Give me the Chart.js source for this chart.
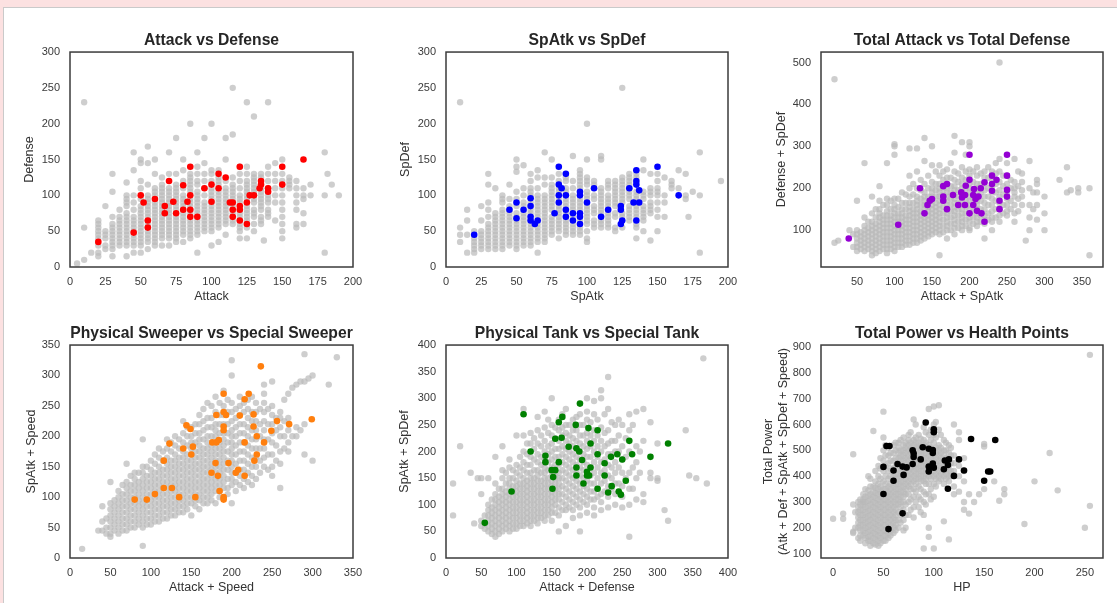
<!DOCTYPE html>
<html>
<head>
<meta charset="utf-8">
<script src="https://cdn.jsdelivr.net/npm/chart.js@4.4.1/dist/chart.umd.min.js"></script>
<style>
  html, body { margin: 0; padding: 0; width: 1117px; height: 603px; overflow: hidden; background: #fce1e1; }
  #card { position: absolute; left: 3px; top: 7px; right: 0; bottom: 0; background: #fff;
          border-left: 1px solid #cacaca; border-top: 1px solid #cacaca; }
  canvas { position: absolute; }
</style>
</head>
<body>
<div id="card"></div>
<canvas id="c1"></canvas>
<canvas id="c2"></canvas>
<canvas id="c3"></canvas>
<canvas id="c4"></canvas>
<canvas id="c5"></canvas>
<canvas id="c6"></canvas>
<script>
// highlighted group, one list of [x, y] per panel
const atkDefHi = [[20,35],[45,48],[50,100],[52,90],[55,65],[55,55],[60,95],[67,85],[67,75],[70,120],[73,91],[75,75],[80,114],[80,80],[83,91],[85,140],[85,100],[85,80],[85,70],[90,70],[95,110],[100,115],[100,91],[105,130],[105,110],[110,125],[113,90],[115,90],[115,80],[115,70],[120,140],[120,85],[120,80],[120,65],[125,90],[125,60],[127,100],[130,100],[134,110],[135,120],[135,115],[140,110],[140,105],[150,140],[150,115],[165,150]];
const spAtkSpDefHi = [[20,45],[45,80],[50,90],[50,68],[55,80],[60,96],[60,85],[60,70],[60,65],[63,60],[65,65],[77,75],[80,140],[80,115],[80,100],[80,90],[82,110],[85,130],[85,100],[85,80],[85,70],[90,75],[90,65],[95,105],[95,100],[95,75],[95,70],[95,60],[100,90],[105,110],[110,70],[115,80],[124,85],[124,80],[125,65],[124,60],[130,110],[133,90],[135,135],[135,120],[135,115],[135,65],[137,107],[137,90],[150,140],[165,100]];
const totalHi = [[39,80],[105,113],[134,200],[140,140],[144,160],[147,170],[150,174],[165,205],[165,180],[165,170],[170,210],[170,150],[178,184],[185,160],[189,190],[190,178],[194,184],[194,160],[195,206],[200,280],[200,220],[200,140],[205,184],[206,198],[205,160],[208,174],[210,146],[212,180],[215,200],[216,140],[220,120],[220,214],[230,230],[230,210],[230,194],[236,220],[240,170],[240,150],[250,280],[250,230],[250,196],[250,180]];
const sweeperHi = [[80,96],[95,96],[105,105],[116,160],[116,115],[123,188],[126,115],[135,100],[140,180],[144,218],[149,212],[150,170],[152,183],[155,100],[175,140],[176,190],[180,156],[181,235],[181,190],[183,135],[184,194],[185,110],[190,270],[190,240],[190,216],[190,210],[190,100],[190,96],[193,235],[196,156],[205,140],[208,145],[210,234],[216,261],[216,190],[216,135],[221,270],[227,236],[227,216],[228,160],[231,200],[231,170],[236,315],[240,190],[249,209],[256,225],[271,220],[299,228]];
const tankHi = [[55,66],[93,125],[110,270],[120,200],[141,192],[141,180],[150,165],[151,130],[152,152],[155,165],[155,224],[160,180],[160,255],[164,226],[165,265],[174,209],[184,250],[185,206],[185,170],[185,155],[189,200],[190,290],[193,184],[195,140],[200,162],[200,155],[202,244],[205,170],[205,215],[203,155],[215,240],[215,195],[215,130],[225,178],[225,155],[230,123],[234,190],[235,135],[243,195],[245,125],[248,119],[250,185],[255,145],[260,220],[264,195],[290,190],[315,215]];
const powerHi = [[55,195],[50,331],[50,436],[53,517],[56,517],[60,382],[60,422],[64,447],[69,437],[69,256],[70,405],[73,434],[79,447],[79,500],[80,488],[80,474],[87,465],[89,512],[92,608],[95,506],[95,418],[95,437],[99,501],[99,490],[99,449],[100,433],[100,582],[100,570],[110,427],[111,461],[114,443],[114,351],[115,465],[120,401],[125,465],[130,422],[137,544],[150,382],[154,418],[156,418],[161,540]];

// all other pokemon, one column per x value: [x, y, y, ...]
const atkDefGray = [[5,5],[10,10,55,230],[15,20],
  [20,15,20,30,40,45,50,55,60,65],[25,25,30,40,45,50,85],
  [30,15,25,30,35,40,45,50,55,60,70,105,130],[35,30,35,40,45,50,55,60,65,70,80],
  [40,15,30,35,40,45,50,55,60,65,70,75,85,90,95,100,118],[45,20,30,35,40,45,50,55,60,65,70,80,90,100,135,160],
  [50,20,30,35,40,45,50,55,60,65,70,75,80,85,95,110,120,145,150],[55,25,35,40,45,50,55,60,65,70,75,80,85,90,95,100,115,145,168],
  [60,30,35,40,45,50,55,60,65,70,75,80,85,90,100,105,110,130,150],[65,30,40,45,50,55,60,65,70,75,80,85,90,95,100,105,110,115,125],
  [70,30,40,45,50,55,60,65,70,75,80,85,90,95,100,105,110,130,160],[75,35,40,45,50,55,60,65,70,80,85,90,95,100,105,110,115,130,180],
  [80,35,45,50,55,60,65,70,75,80,85,90,95,100,110,120,135,150],[85,40,45,50,55,60,65,75,80,85,90,95,105,110,115,120,125,130,200],
  [90,20,45,50,55,60,65,70,75,80,85,90,95,100,105,115,120,130,140,160],[95,50,55,60,65,70,75,80,85,90,100,110,120,130,145,180],
  [100,30,50,55,60,65,70,75,80,85,90,95,100,105,110,120,130,135,200],[105,35,55,60,65,70,75,80,85,90,95,100,105,115,120,125,135],
  [110,45,60,65,70,75,80,85,90,95,100,105,110,120,150,180],[115,60,65,70,75,80,85,90,95,100,105,110,115,125,185,250],
  [120,40,50,55,60,65,70,75,80,90,95,100,110,120,130,140],[125,40,55,65,70,75,80,85,95,100,105,110,115,120,130,140,230],
  [130,50,60,70,75,80,90,95,100,105,110,115,120,125,130,210],[135,60,65,70,80,85,90,95,100,105,110,125,130],
  [137,37],[140,70,75,80,90,95,100,110,120,130,140,230],[145,65,90,100,110,120,130,145],
  [150,40,50,60,70,80,90,100,110,120,130,150],[155,110,115,120,125],[160,55,60,80,90,100,110,120],
  [165,60,75,95,100,110],[170,100,115],[180,20,100,160],[182,130],[185,115],[190,100]];
const spAtkSpDefGray = [[10,35,45,55,230],[15,20,45,65,80],
  [20,20,25,30,35,40,50],[25,25,30,35,40,45,50,65,85],
  [30,25,30,35,40,45,50,55,60,70,80,90,115,130],[35,25,30,35,40,45,50,55,60,65,70,75,110],
  [40,25,30,35,40,45,50,55,60,65,70,75,80,90,95,100],[45,30,35,40,45,50,55,60,65,70,75,80,85,95,115],
  [50,25,30,35,40,45,50,55,60,65,70,75,85,95,105,133,140,150],[55,30,35,40,45,50,55,60,65,70,75,85,90,100,110,142],
  [60,30,35,40,45,50,55,60,65,75,80,90,100,105,110,120,130],[65,20,35,40,45,50,55,60,70,75,80,85,90,95,100,110,125,135],
  [70,35,40,45,50,55,60,65,70,75,80,85,90,95,100,115,125,160],[75,45,50,55,60,65,70,80,85,90,95,100,105,110,115,125,150],
  [80,40,50,55,60,65,70,75,80,85,95,105,110,120,130],[85,45,50,55,60,65,75,85,90,95,105,110,120,125],
  [90,45,50,55,60,70,80,85,90,95,100,110,120,155],[95,45,50,55,65,80,85,90,95,110,115,120,125,130,135],
  [100,35,40,50,60,65,70,75,80,85,95,100,105,115,120,125,150,200],[105,55,60,65,75,80,85,95,100,110,115,120],
  [110,55,60,65,75,80,85,90,95,100,105,110,150,155],[115,55,60,65,70,75,85,90,95,100,110,115,120],
  [120,50,55,70,75,85,90,95,100,105,110,115,120],[125,55,70,75,90,95,100,105,110,115,120,125,250],
  [130,65,70,75,80,85,95,100,105,110,115,120,125,130],[135,40,55,60,70,75,80,85,90,95,100,105,125,130],
  [140,50,65,70,75,80,85,95,100,105,135,150],[145,37,75,80,85,90,100,105,110,130],
  [150,50,70,80,90,100,105,110,120,130],[155,70,90,100,125],[160,110,115,120],[165,110,135],
  [170,95,100,130],[172,70],[175,105],[180,20,100,160],[195,120]];
const totalGray = [[20,70,460],[25,75],[40,100],[45,60,90],
  [50,50,60,70,80,90,100,170],[60,50,60,70,80,90,100,110,130,260],
  [70,40,50,60,70,80,90,100,110,120,140,180],[80,50,60,70,80,90,100,110,120,130,140,150,170,205],
  [90,45,55,65,75,85,95,105,115,125,135,145,160,175,260],[100,50,60,70,80,90,100,110,120,130,140,150,160,175,280,300,305],
  [110,60,70,80,90,100,110,120,130,140,150,165,190],[120,65,75,85,95,105,115,125,135,145,155,165,180,200,230,295],
  [130,70,80,90,100,110,120,130,140,150,160,170,180,200,240,295],[140,80,90,100,110,120,130,140,150,160,170,180,190,210,265,320],
  [150,90,100,110,120,130,140,150,160,170,180,190,200,215,255,300],[160,40,90,100,110,120,130,140,150,160,170,180,190,200,210,230,255],
  [170,80,100,110,120,130,140,150,160,170,180,190,200,210,225,245],[180,90,105,115,125,135,145,155,165,175,185,195,205,220,240,285,325],
  [190,100,110,120,130,140,150,160,170,180,190,200,210,225,250,310],[200,100,105,120,130,140,150,160,170,180,190,200,210,230,245,300,310],
  [210,110,120,130,140,150,160,170,180,190,200,210,230,250],[220,80,115,125,135,150,165,180,195,210,225,240],
  [230,100,120,130,145,160,175,190,205,220,240],[240,120,135,150,165,180,195,215,240,270,500],
  [250,135,145,160,175,190,210,230,260],[260,120,140,160,180,190,200,215,270],[270,160,180,195,215,235],
  [275,75],[280,100,130,160,200,265],[290,125,160,190,210,220],[300,100,140,180],[320,220],
  [330,190,250],[335,195],[345,190,200],[360,40,200],
  [55,55,65,75,85,95],[65,55,65,75,85,95,105,120],[75,45,55,65,75,85,95,105,115,130,150],
  [85,55,65,75,85,95,105,115,125,135,160],[95,55,65,75,85,95,105,115,125,135,150,170],
  [105,60,70,80,90,100,110,120,130,140,155,175],[115,65,75,85,95,105,115,125,135,150,165,185],
  [125,70,80,90,100,110,120,130,140,150,165,185,210],[135,75,85,95,105,115,125,135,145,160,175,195,220],
  [145,85,95,105,115,125,135,145,155,165,180,200,230],[155,95,105,115,125,135,145,155,165,180,195,210,240],
  [165,95,110,125,140,155,170,185,200,220,240],[175,100,115,130,145,160,175,190,205,225,260],
  [185,105,120,135,150,165,180,195,215,235],[195,110,125,140,155,170,185,200,220,240,280],
  [205,115,130,145,160,175,195,215,240],[215,120,135,150,170,190,210,235],[225,125,140,160,180,200,225,250],
  [235,130,150,170,190,210,235,260],[245,140,160,185,205,230],[255,150,170,200,220],[265,145,175,205,240],[285,150,190]];
const sweeperGray = [[15,15],[35,45],[40,45,60,85],
  [50,35,40,50,60,70,80,90,125],[60,40,50,60,70,80,90,100,110],
  [70,45,55,65,75,85,95,105,115,125,155],[80,50,60,70,80,90,100,110,120,130,140],
  [90,20,50,60,70,80,90,100,110,120,130,140,150,195],[100,55,65,75,85,95,105,115,125,135,145,160],
  [110,60,70,80,90,100,110,120,130,140,150,165,180],[120,65,75,85,95,105,115,125,135,145,155,165,180,195],
  [130,70,80,90,100,110,120,130,140,150,160,170,185,200],[140,75,85,95,105,115,125,135,145,155,165,175,190,205,225],
  [150,70,90,100,110,120,130,140,150,160,170,180,190,200,215],[160,80,95,105,115,125,135,145,155,165,175,185,195,205,220,235],
  [170,90,100,110,120,130,140,150,160,170,180,190,200,215,230,255],[180,90,110,120,130,140,150,160,170,180,190,200,210,220,240,265],
  [190,100,115,125,135,145,155,165,175,185,195,205,220,235,250,275],[200,90,120,130,140,150,160,170,180,190,200,210,225,240,255,300,325],
  [210,120,135,145,160,175,190,205,220,235,250,265],[220,125,140,155,170,185,200,215,230,245,260],
  [230,130,150,165,180,195,210,225,240,255],[240,150,165,180,195,210,225,240,255,270,285],
  [250,135,150,170,190,205,220,235,250,290],[260,115,155,175,200,215,230,240],
  [270,175,190,210,230,270],[280,200,215,285],[290,170,220,290,335],[300,160,300],[320,285],[330,330],
  [45,40,50,65],[55,45,55,65,75,85,95],[65,45,55,65,75,85,95,105,120],[75,50,60,70,80,90,100,110,120,135],
  [85,55,65,75,85,95,105,115,125,140],[95,55,65,75,85,95,105,115,125,135,150],
  [105,60,70,80,90,100,110,120,130,140,155,170],[115,65,75,85,95,105,115,125,135,145,160,175],
  [125,70,80,90,100,110,120,130,140,150,160,175,190],[135,75,85,95,105,115,125,135,145,155,165,180,195],
  [145,80,90,100,110,120,130,140,150,160,170,185,200,215],[155,85,95,105,115,125,135,145,155,165,175,190,205,220],
  [165,90,100,110,120,130,140,150,160,170,180,195,210,225,245],[175,95,105,115,125,135,145,155,165,175,185,200,215,230,250],
  [185,100,110,120,130,140,150,160,170,180,190,205,220,235,255],[195,105,115,130,145,160,175,190,205,220,240,260],
  [205,110,125,140,155,170,185,200,215,230,245],[215,115,130,145,160,175,190,205,220,240,255],
  [225,120,135,150,165,180,195,210,225,240,265],[235,140,160,180,200,220,245],[245,145,170,195,220,245],
  [255,160,185,210,230],[265,180,200,225,260],[275,200,280],[285,210,290],[295,295]];
const tankGray = [[10,80,140],[20,210],[35,160],[40,65],[45,150],
  [50,60,70,120,150],[60,50,60,70,80,90,100,150],
  [70,40,50,60,70,80,90,100,110,120,140,190],[80,50,60,70,80,90,100,110,120,130,150,165,210],
  [90,50,60,70,80,90,100,110,120,130,140,150,170,185],[100,55,65,75,85,95,105,115,125,135,145,160,175,230],
  [110,60,70,80,90,100,110,120,130,140,150,165,180,200,230,280],[120,60,70,80,90,100,110,120,130,140,150,160,175,190,215,235],
  [130,65,75,85,95,105,115,125,135,145,155,165,180,195,215,240,265],[140,70,80,90,100,110,120,130,140,150,160,170,185,200,220,245,275],
  [150,70,85,95,105,115,125,135,145,155,170,185,200,215,230,250,300],[160,50,80,95,110,120,130,140,150,160,175,190,205,220,240,260],
  [170,60,90,100,115,130,145,160,175,190,205,220,235,250,280],[180,75,90,105,120,135,150,165,180,195,210,225,240,260],
  [190,50,80,95,110,125,140,155,170,185,200,215,230,250,270],[200,85,100,115,130,145,160,175,190,205,220,235,260,275,300],
  [210,80,95,110,125,140,160,180,200,220,240,270,295],[220,90,105,120,140,160,180,200,220,245,300,315],
  [230,95,115,135,155,175,195,215,240,280,340],[240,100,120,140,160,180,200,220,250],
  [250,95,115,135,160,185,210,250],[260,40,100,130,160,200,240,270],[270,110,150,180,210,275],
  [280,105,120,220,280],[290,150,160,255],[300,145,150,215],[310,90],[315,70],
  [340,240],[345,155],[355,150],[365,375],[370,140],
  [55,55,65,80],[65,45,55,65,75,85,95,110],[75,45,55,65,75,85,95,105,115,130],
  [85,55,65,75,85,95,105,115,125,140,160],[95,55,65,75,85,95,105,115,125,135,150,165],
  [105,60,70,80,90,100,110,120,130,140,155,170,190],[115,65,75,85,95,105,115,125,135,145,160,175,195,215],
  [125,70,80,90,100,110,120,130,140,150,165,185,205,225],[135,75,85,95,105,115,125,135,145,160,175,190,210,230],
  [145,80,90,100,110,120,130,140,150,165,180,195,210,235,260],[155,85,100,110,120,130,140,150,160,175,190,205,225,245],
  [165,90,105,120,135,150,165,180,195,210,230,245,270],[175,95,110,125,140,155,170,185,200,215,230,250],
  [185,100,115,130,145,160,175,190,205,220,240,265],[195,105,120,135,150,165,180,195,210,230,250],
  [205,110,125,140,155,170,190,210,230,255],[215,115,130,150,170,190,210,230,260],
  [225,125,145,165,185,210,235,270],[235,130,150,170,195,220,255],[245,140,170,200,230,260],
  [255,150,190,225],[265,130,170,250],[275,160,200]];
const powerGray = [[0,235],[10,235,255],[20,180,185,290,485],
  [25,160,200,220,240,260,280,300],[30,170,190,210,230,250,270,290,300,310,330],
  [35,150,165,185,205,225,245,265,285,305,325,345,400],[40,140,160,180,200,220,240,260,280,300,320,340,360,575],
  [45,130,150,170,190,210,230,250,270,290,310,330,350,370,400,440],[50,150,170,190,210,230,250,270,290,310,330,350,380,420,460,500,550,650],
  [55,160,180,200,220,240,260,280,300,320,340,360,390,420,450,480,510],[60,180,200,220,240,260,280,300,320,340,360,380,400,430,460,490,520],
  [65,200,230,260,290,310,330,350,370,390,410,430,450,470,490,510,530],[70,190,230,270,300,320,340,360,380,400,420,440,460,480,500,520,550],
  [75,250,300,330,360,380,400,420,440,460,480,500,520,540,560],[80,240,280,320,350,380,400,420,440,460,480,500,520,540,620],
  [85,280,320,360,390,410,430,450,470,490,510,530,560],[90,120,250,300,340,380,400,420,440,460,480,500,520,540,590],
  [95,165,200,330,370,400,420,440,460,480,500,520,560,660],[100,120,320,370,400,420,440,460,480,500,530,560,600,670],
  [105,380,400,420,440,460,480,500,520,580,675],[110,225,370,400,420,440,460,480,500,540],
  [115,155,380,400,420,440,460,490,520],[120,330,360,400,420,450,480,600],[125,340,400,440,540,570],
  [130,270,300,380,420,470],[135,255,330],[140,300],[145,330],[150,350,515,525],[160,380],[165,305],
  [170,330,350],[190,215],[200,380],[215,490],[223,345],[250,200],[255,285,870],
  [22,200,260],[27,150,170,190,210,230,250,270,290,310],[32,140,160,180,200,220,240,260,280,300,320,350],
  [37,130,150,170,190,210,230,250,270,290,310,330,360,390],[42,135,155,175,195,215,235,255,275,295,315,335,355,380,420],
  [47,140,160,180,200,220,240,260,280,300,320,340,360,390,430,470],[52,150,170,190,210,230,250,270,290,310,330,350,370,400,440,480,520],
  [57,170,190,210,230,250,270,290,310,330,350,370,400,430,460,490],[62,190,210,230,250,270,290,310,330,350,370,390,410,440,470,500,530],
  [67,220,250,280,300,320,340,360,380,400,420,440,460,480,500,540],[72,200,250,290,330,350,370,390,410,430,450,470,490,510,530],
  [77,270,310,350,370,390,410,430,450,470,490,510,530,570],[82,300,340,370,390,410,430,450,470,490,510,530,550,600],
  [87,260,310,350,380,400,420,440,460,480,500,520,545],[92,290,330,370,390,410,430,450,470,490,510,530,570],
  [97,310,350,390,410,430,450,470,490,510,540,580],[102,360,390,410,430,450,470,490,510,550,610],
  [107,390,410,430,450,470,490,510,560],[112,390,410,430,450,470,500,530],[117,400,420,450,480,510]];

// tick values
const ticks0to200 = [0,25,50,75,100,125,150,175,200];
const ticks0to300 = [0,50,100,150,200,250,300];
const totalXTicks = [50,100,150,200,250,300,350];
const totalYTicks = [100,200,300,400,500];
const sweeperTicks = [0,50,100,150,200,250,300,350];
const tankTicks = [0,50,100,150,200,250,300,350,400];
const hpTicks = [0,50,100,150,200,250];
const powerTicks = [100,200,300,400,500,600,700,800,900];

Chart.defaults.font.family = '"Liberation Sans", Arial, sans-serif';

const frame = {
  id: 'frame',
  afterDatasetsDraw(chart) {
    const a = chart.chartArea, ctx = chart.ctx;
    ctx.save();
    ctx.strokeStyle = '#3b3b3b';
    ctx.lineWidth = 1.5;
    ctx.strokeRect(a.left, a.top, a.right - a.left, a.bottom - a.top);
    ctx.restore();
  }
};

function fromCols(list) {
  const pts = [];
  list.forEach(c => { for (let i = 1; i < c.length; i++) pts.push({x: c[0], y: c[i]}); });
  return pts;
}

function panel(id, area, title, xLabel, yLabel, xMin, xMax, yMin, yMax, xTicks, yTicks, gray, hi, color, yPad) {
  const cv = document.getElementById(id);
  cv.width = 70 + (area[2] - area[0]) + 22;
  cv.height = 32 + (area[3] - area[1]) + 37;
  cv.style.left = (area[0] - 70) + 'px';
  cv.style.top = (area[1] - 32) + 'px';
  new Chart(cv, {
    type: 'scatter',
    data: {
      datasets: [
        {data: fromCols(gray), order: 2, backgroundColor: 'rgba(185,185,185,0.7)', borderWidth: 0, pointRadius: 3.2},
        {data: hi.map(p => ({x: p[0], y: p[1]})), order: 1, backgroundColor: color, borderWidth: 0, pointRadius: 3.3}
      ]
    },
    options: {
      responsive: false,
      animation: false,
      devicePixelRatio: 1,
      layout: {padding: {left: 0, right: 22, top: 0, bottom: 0}},
      plugins: {
        legend: {display: false},
        tooltip: {enabled: false},
        title: {display: true, text: title, fullSize: false, color: '#262626',
                font: {size: 15.7, weight: 'bold'}, padding: {top: 11.6, bottom: 1.6}}
      },
      scales: {
        x: {
          type: 'linear', min: xMin, max: xMax,
          grid: {display: false, drawTicks: false}, border: {display: false},
          afterBuildTicks: s => { s.ticks = xTicks.map(v => ({value: v})); },
          afterFit: s => { s.height = 37; },
          ticks: {padding: 8, color: '#3a3a3a', font: {size: 11}, autoSkip: false, maxRotation: 0},
          title: {display: true, text: xLabel, color: '#333', font: {size: 12.5}, padding: {top: 0, bottom: 0}}
        },
        y: {
          type: 'linear', min: yMin, max: yMax,
          grid: {display: false, drawTicks: false}, border: {display: false},
          afterBuildTicks: s => { s.ticks = yTicks.map(v => ({value: v})); },
          afterFit: s => { s.width = 70; },
          ticks: {padding: 10, color: '#3a3a3a', font: {size: 11}, autoSkip: false},
          title: {display: true, text: yLabel, color: '#333', font: {size: 12.5}, padding: {top: yPad, bottom: 0}}
        }
      }
    },
    plugins: [frame]
  });
}

panel('c1', [70, 52, 353, 267], 'Attack vs Defense', 'Attack', 'Defense',
  0, 200, 0, 300, ticks0to200, ticks0to300, atkDefGray, atkDefHi, '#ff0000', 22.5);
panel('c2', [446, 52, 728, 267], 'SpAtk vs SpDef', 'SpAtk', 'SpDef',
  0, 200, 0, 300, ticks0to200, ticks0to300, spAtkSpDefGray, spAtkSpDefHi, '#0000ff', 22);
panel('c3', [821, 52, 1103, 267], 'Total Attack vs Total Defense', 'Attack + SpAtk', 'Defense + SpDef',
  2, 378, 12, 525, totalXTicks, totalYTicks, totalGray, totalHi, '#9400d3', 23);
panel('c4', [70, 345, 353, 558], 'Physical Sweeper vs Special Sweeper', 'Attack + Speed', 'SpAtk + Speed',
  0, 350, 0, 350, sweeperTicks, sweeperTicks, sweeperGray, sweeperHi, '#ff7f0e', 24);
panel('c5', [446, 345, 728, 558], 'Physical Tank vs Special Tank', 'Attack + Defense', 'SpAtk + SpDef',
  0, 400, 0, 400, tankTicks, tankTicks, tankGray, tankHi, '#008000', 21.5);
panel('c6', [821, 345, 1103, 558], 'Total Power vs Health Points', 'HP',
  ['Total Power', '(Atk + Def + SpAtk + SpDef + Speed)'],
  -12, 268, 83, 908, hpTicks, powerTicks, powerGray, powerHi, '#000000', 10);
</script>
</body>
</html>
